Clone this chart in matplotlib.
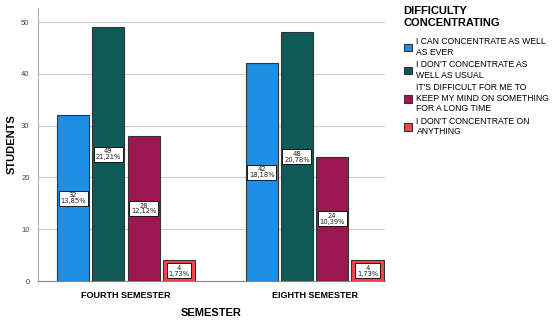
import numpy as np
import matplotlib.pyplot as plt

plt.rcParams['font.family'] = ['Liberation Sans', 'DejaVu Sans']

# data
semesters = ['FOURTH SEMESTER', 'EIGHTH SEMESTER']
answers = ['I CAN CONCENTRATE AS WELL\nAS EVER',
           "I DON'T CONCENTRATE AS\nWELL AS USUAL",
           "IT'S DIFFICULT FOR ME TO\nKEEP MY MIND ON SOMETHING\nFOR A LONG TIME",
           "I DON'T CONCENTRATE ON\nANYTHING"]
counts = [[32, 49, 28, 4],
          [42, 48, 24, 4]]
percents = [['13,85%', '21,21%', '12,12%', '1,73%'],
            ['18,18%', '20,78%', '10,39%', '1,73%']]
colors = ['#1E8FE3', '#0F5957', '#9C1650', '#F0474D']

fig = plt.figure(figsize=(5.56, 3.23), dpi=100)
ax = fig.add_axes([0.068, 0.130, 0.625, 0.845])

x = np.arange(len(semesters))
w = 0.17
step = 0.187
for j in range(len(answers)):
    xs = x + (j - 1.5) * step
    vals = [counts[i][j] for i in range(len(semesters))]
    ax.bar(xs, vals, width=w, color=colors[j], edgecolor='#333333',
           linewidth=0.8, label=answers[j], zorder=3)
    for i in range(len(semesters)):
        ax.text(xs[i], vals[i] / 2, '%d\n%s' % (vals[i], percents[i][j]),
                ha='center', va='center', fontsize=4.9, family='DejaVu Sans',
                linespacing=0.95, zorder=4, color='#222222',
                bbox=dict(boxstyle='square,pad=0.25', fc='white', ec='black', lw=0.6))

ax.set_xlim(-0.468, 1.375)
ax.set_ylim(0, 52.7)
ax.set_yticks([0, 10, 20, 30, 40, 50])
ax.yaxis.grid(True, color='#d0d0d0', linewidth=0.8, zorder=0)
ax.set_xticks(x)
ax.set_xticklabels(semesters, fontsize=6.5, fontweight='bold')
ax.tick_params(axis='y', length=0, labelsize=5.5, labelcolor='#444444', pad=6)
ax.tick_params(axis='x', length=0, pad=7)
for s in ['top', 'right']:
    ax.spines[s].set_visible(False)
ax.spines['left'].set_color('#aaaaaa')
ax.spines['bottom'].set_color('#888888')
ax.set_ylabel('STUDENTS', fontsize=8, fontweight='bold', labelpad=3)
ax.set_xlabel('SEMESTER', fontsize=8, fontweight='bold', labelpad=6)

leg = ax.legend(loc='upper left', bbox_to_anchor=(0.715, 1.0),
                bbox_transform=fig.transFigure, frameon=False,
                title='DIFFICULTY\nCONCENTRATING', fontsize=6.2,
                handlelength=1.0, handleheight=1.0, handletextpad=0.5,
                labelspacing=0.42, borderpad=0.2)
leg.get_title().set_fontweight('bold')
leg.get_title().set_fontsize(8)
leg._legend_box.align = 'left'
leg._legend_box.sep = 7

fig.savefig('out.png', dpi=100)
